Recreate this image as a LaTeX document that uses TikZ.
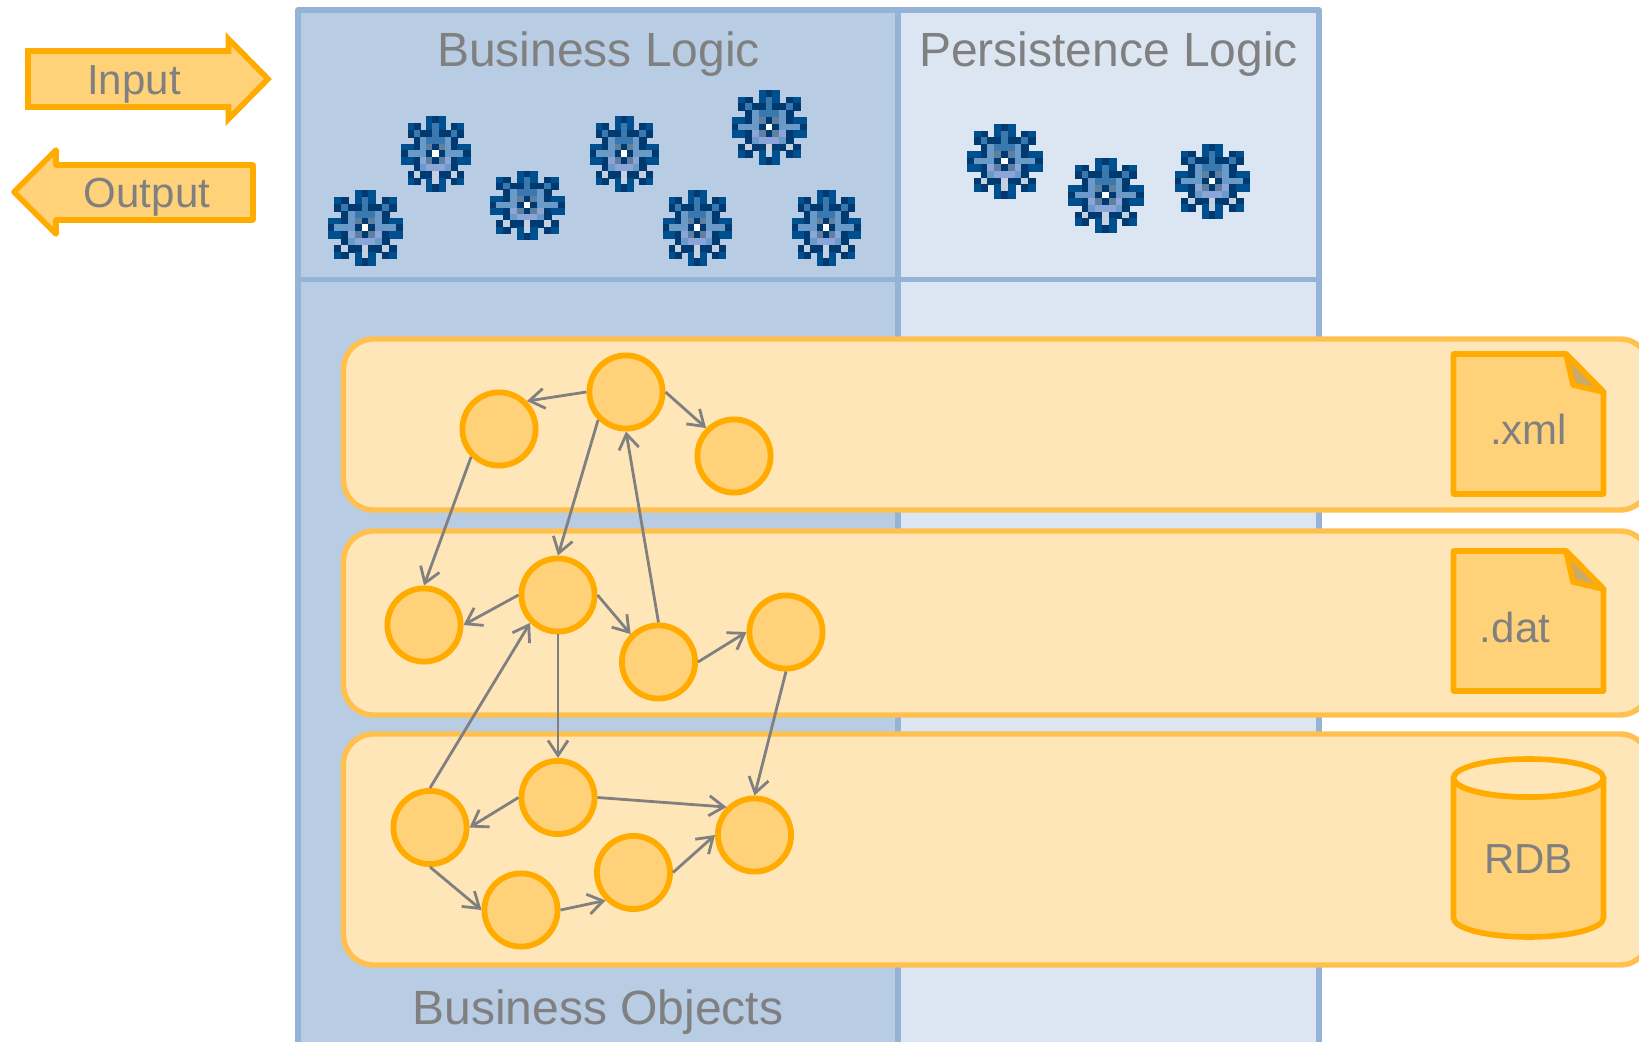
\documentclass[tikz,border=0pt]{standalone}
\usepackage{xcolor}
\usepackage{fontspec}
\setmainfont{Liberation Sans}
\usetikzlibrary{arrows.meta}
\definecolor{panelline}{HTML}{95B3D7}
\definecolor{bizfill}{HTML}{B8CCE4}
\definecolor{persfill}{HTML}{DCE6F2}
\definecolor{bandfill}{HTML}{FFE6B9}
\definecolor{bandline}{HTML}{FFC04D}
\definecolor{nodeline}{HTML}{FFAB00}
\definecolor{nodefill}{HTML}{FFD27A}
\definecolor{foldfill}{HTML}{CBA968}
\definecolor{labelgray}{HTML}{808080}
\tikzstyle{panel} = [draw=panelline, line width=2.8pt, line join=round]
\tikzstyle{band} = [draw=bandline, fill=bandfill, line width=2.7pt, rounded corners=15pt]
\tikzstyle{shapeline} = [draw=nodeline, fill=nodefill, line width=2.8pt]
\tikzstyle{objnode} = [circle, draw=nodeline, fill=nodefill, line width=2.9pt, minimum size=36.6pt, inner sep=0pt]
\tikzstyle{link} = [draw=labelgray, line width=1.4pt, -{Straight Barb[length=7.5pt,width=10pt]}]
\tikzstyle{bigtext} = [text=labelgray, font=\fontsize{24}{24}\selectfont, inner sep=0pt]
\tikzstyle{smalltext} = [text=labelgray, font=\fontsize{21}{21}\selectfont, inner sep=0pt]
\tikzset{
  gearo/.style={},
  geard/.style={fill=gearD,draw=gearD},
  gearb/.style={fill=gearB,draw=gearB},
  gearm/.style={fill=gearM,draw=gearM},
  gearl/.style={fill=gearL,draw=gearL},
  gearp/.style={fill=gearP,draw=gearP},
  gearg/.style={fill=gearG,draw=gearG},
  gears/.style={fill=gearS,draw=gearS},
  gearw/.style={fill=white,draw=white}
}
\definecolor{gearD}{HTML}{003A70}
\definecolor{gearB}{HTML}{00508F}
\definecolor{gearM}{HTML}{3A78B0}
\definecolor{gearL}{HTML}{6A9BC8}
\definecolor{gearP}{HTML}{8CA5D8}
\definecolor{gearG}{HTML}{C5D0E0}
\definecolor{gearS}{HTML}{6080A0}
% pixel gear: centre x, centre y, cell width, cell height
\def\gearicon(#1,#2,#3,#4){
  \foreach \gearrow [count=\ry] in {{o,o,o,o,b,d,b,o,o,o,o},{o,b,d,o,b,m,b,o,d,b,o},{o,d,m,d,d,m,d,d,m,d,o},{o,o,d,l,m,m,m,l,d,o,o},{b,b,d,l,s,d,s,l,d,b,b},{d,l,l,l,d,w,d,l,l,l,d},{b,b,d,p,s,d,s,p,d,b,b},{o,o,d,l,p,p,p,l,d,o,o},{o,d,g,d,d,g,d,d,g,d,o},{o,b,d,o,b,g,b,o,d,b,o},{o,o,o,o,b,d,b,o,o,o,o}}{
    \foreach \gearcell [count=\rx] in \gearrow {
      \path[gear\gearcell, line width=0.1pt] ({#1+(\rx-6.5)*#3},{#2+(\ry-6.5)*#4}) rectangle ++(#3,#4);
    }
  }
}
\begin{document}
\begin{tikzpicture}[x=0.5pt,y=-0.5pt]
\useasboundingbox (0,0) rectangle (1639,1042);
\clip (0,0) rectangle (1639,1042);
% columns
\path[panel, fill=bizfill] (298,10) rectangle (898,1060);
\path[panel, fill=persfill] (898,10) rectangle (1319,1060);
\draw[panel] (298,279.5) -- (1319,279.5);
\node[bigtext] (bizlogic) at (598.5,54) {Business Logic};
\node[bigtext] (perslogic) at (1108.5,54) {Persistence Logic};
\node[bigtext] (bizobjects) at (598,1012) {Business Objects};
% input and output
\path[shapeline] (28,51) -- (228.5,51) -- (228.5,39) -- (268,79) -- (228.5,119) -- (228.5,107) -- (28,107) -- cycle;
\node[smalltext] (input) at (134,84) {Input};
\path[shapeline, line join=round] (253,165) -- (56,165) -- (56,150) -- (14,192) -- (56,234) -- (56,220) -- (253,220) -- cycle;
\node[smalltext] (output) at (147,197.5) {Output};
% gears
\gearicon(365,228,6.8,6.8)
\gearicon(435.5,154,6.2,6.8)
\gearicon(527,205,6.8,6.2)
\gearicon(624,154,6.2,6.8)
\gearicon(769,127,6.8,6.7)
\gearicon(697,228,6.2,6.8)
\gearicon(826,228,6.2,6.8)
\gearicon(1004.5,161,6.8,6.7)
\gearicon(1105.5,195,6.8,6.7)
\gearicon(1212,181,6.8,6.7)
% bands
\path[band] (343.5,339) rectangle (1650,510);
\path[band] (343.5,531) rectangle (1650,715);
\path[band] (343.5,734) rectangle (1650,965);
% file icons
\path[shapeline, line join=round] (1453.5,354) -- (1566,354) -- (1603.5,392) -- (1603.5,494) -- (1453.5,494) -- cycle;
\path[shapeline, fill=foldfill, line join=round] (1566,354) -- (1603.5,392) -- (1573,385) -- cycle;
\node[smalltext] (xml) at (1528.5,429) {.xml};
\path[shapeline, line join=round] (1453.5,551) -- (1566,551) -- (1603.5,589) -- (1603.5,691) -- (1453.5,691) -- cycle;
\path[shapeline, fill=foldfill, line join=round] (1566,551) -- (1603.5,589) -- (1573,582) -- cycle;
\node[smalltext] (dat) at (1515,627) {.dat};
% database
\path[shapeline, line join=round] (1453.5,778) arc[start angle=180, end angle=360, x radius=75, y radius=-19] -- (1603.5,918) arc[start angle=0, end angle=-180, x radius=75, y radius=-19] -- cycle;
\path[shapeline, fill=bandfill] (1528.5,778) ellipse[x radius=75, y radius=19];
\node[smalltext] (rdb) at (1528.5,859) {RDB};
% objects
\node[objnode] (a) at (499,429) {};
\node[objnode] (b) at (626,392) {};
\node[objnode] (c) at (734,456) {};
\node[objnode] (d) at (424,625) {};
\node[objnode] (e) at (558,595) {};
\node[objnode] (f) at (658.5,662) {};
\node[objnode] (g) at (786,632) {};
\node[objnode] (h) at (430,827.5) {};
\node[objnode] (i) at (558,797.5) {};
\node[objnode] (j) at (521,910) {};
\node[objnode] (k) at (633.5,872.5) {};
\node[objnode] (l) at (754.5,835) {};
\draw[link] (b.west) -- (a.north east);
\draw[link] (b.east) -- (c.north west);
\draw[link] (a.south west) -- (d.north);
\draw[link] (b.south west) -- (e.north);
\draw[link] (f.north) -- (b.south);
\draw[link] (e.west) -- (d.east);
\draw[link] (e.east) -- (f.north west);
\draw[link] (f.east) -- (g.west);
\draw[link] (h.north) -- (e.south west);
\draw[link] (e.south) -- (i.north);
\draw[link] (g.south) -- (l.north);
\draw[link] (i.west) -- (h.east);
\draw[link] (i.east) -- (l.north west);
\draw[link] (h.south) -- (j.west);
\draw[link] (j.east) -- (k.south west);
\draw[link] (k.east) -- (l.west);
\end{tikzpicture}
\end{document}
